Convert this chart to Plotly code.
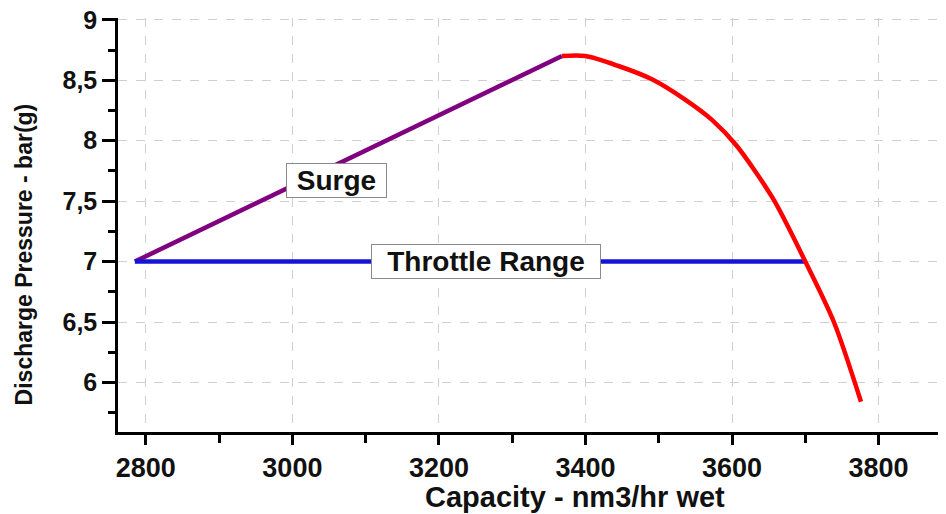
import plotly.graph_objects as go

# Data
surge_x = [2785, 3368]
surge_y = [7.0, 8.70]
curve_x = [3368, 3400, 3444, 3490, 3536, 3573, 3606, 3656, 3700, 3739, 3776]
curve_y = [8.70, 8.70, 8.62, 8.51, 8.34, 8.17, 7.96, 7.52, 7.0, 6.5, 5.84]
throttle_x = [2785, 3700]
throttle_y = [7.0, 7.0]

x_ticks = [2800, 3000, 3200, 3400, 3600, 3800]
y_ticks = [6, 6.5, 7, 7.5, 8, 8.5, 9]
y_tick_labels = ["6", "6,5", "7", "7,5", "8", "8,5", "9"]

label_surge = ("Surge", 3060, 7.67)
label_throttle = ("Throttle Range", 3264, 7.0)

FONT = "Liberation Sans, Arial, sans-serif"

fig = go.Figure()
fig.add_trace(go.Scatter(x=surge_x, y=surge_y, mode="lines",
                         line=dict(color="#800080", width=4.5), showlegend=False))
fig.add_trace(go.Scatter(x=throttle_x, y=throttle_y, mode="lines",
                         line=dict(color="#1414d8", width=4.5), showlegend=False))
fig.add_trace(go.Scatter(x=curve_x, y=curve_y, mode="lines", line_shape="spline",
                         line=dict(color="#ff0000", width=4.5, smoothing=0.8),
                         showlegend=False))

for (txt, x, y), w in [(label_surge, 97), (label_throttle, 226)]:
    fig.add_annotation(x=x, y=y, text="<b>%s</b>" % txt, showarrow=False,
                       font=dict(family=FONT, size=28, color="#111111"),
                       bgcolor="white", bordercolor="#8a8a8a", borderwidth=1,
                       borderpad=1, width=w, height=31)

fig.add_annotation(xref="paper", yref="paper", x=0.552, y=0, xanchor="center",
                   yanchor="top", yshift=-47,
                   text="<b>Capacity - nm3/hr wet</b>", showarrow=False,
                   font=dict(family=FONT, size=29, color="#111111"))
fig.add_annotation(xref="paper", yref="paper", x=-0.114, y=0.428, textangle=-90,
                   xanchor="center", yanchor="middle",
                   text="<b>Discharge Pressure - bar(g)</b>", showarrow=False,
                   font=dict(family=FONT, size=23, color="#111111"))

fig.update_xaxes(range=[2762, 3892], tickvals=x_ticks, ticks="outside", ticklen=10,
                 tickwidth=2.5, tickcolor="black", showline=True, linecolor="black",
                 linewidth=2.5, showgrid=True, gridcolor="#cfcfcf", griddash="dash",
                 gridwidth=1, zeroline=False, automargin=False,
                 ticklabeloverflow="allow",
                 tickfont=dict(family=FONT, size=27, color="#111111", weight="bold"),
                 minor=dict(dtick=100, ticks="outside", ticklen=8, tickwidth=2.5,
                            tickcolor="black", showgrid=False))
fig.update_yaxes(range=[5.59, 9.015], tickvals=y_ticks, ticktext=y_tick_labels,
                 ticks="outside", ticklen=13, tickwidth=2.5, tickcolor="black",
                 showline=True, linecolor="black", linewidth=2.5, showgrid=True,
                 gridcolor="#cfcfcf", griddash="dash", gridwidth=1, zeroline=False,
                 automargin=False, ticklabeloverflow="allow",
                 tickfont=dict(family=FONT, size=25, color="#111111", weight="bold"),
                 minor=dict(dtick=0.25, ticks="outside", ticklen=7, tickwidth=2.5,
                            tickcolor="black", showgrid=False))

fig.update_layout(width=938, height=506, margin=dict(l=110, r=0, t=10, b=82),
                  plot_bgcolor="white", paper_bgcolor="white",
                  font=dict(family=FONT, color="#111111"))

fig.write_html("out.html")
